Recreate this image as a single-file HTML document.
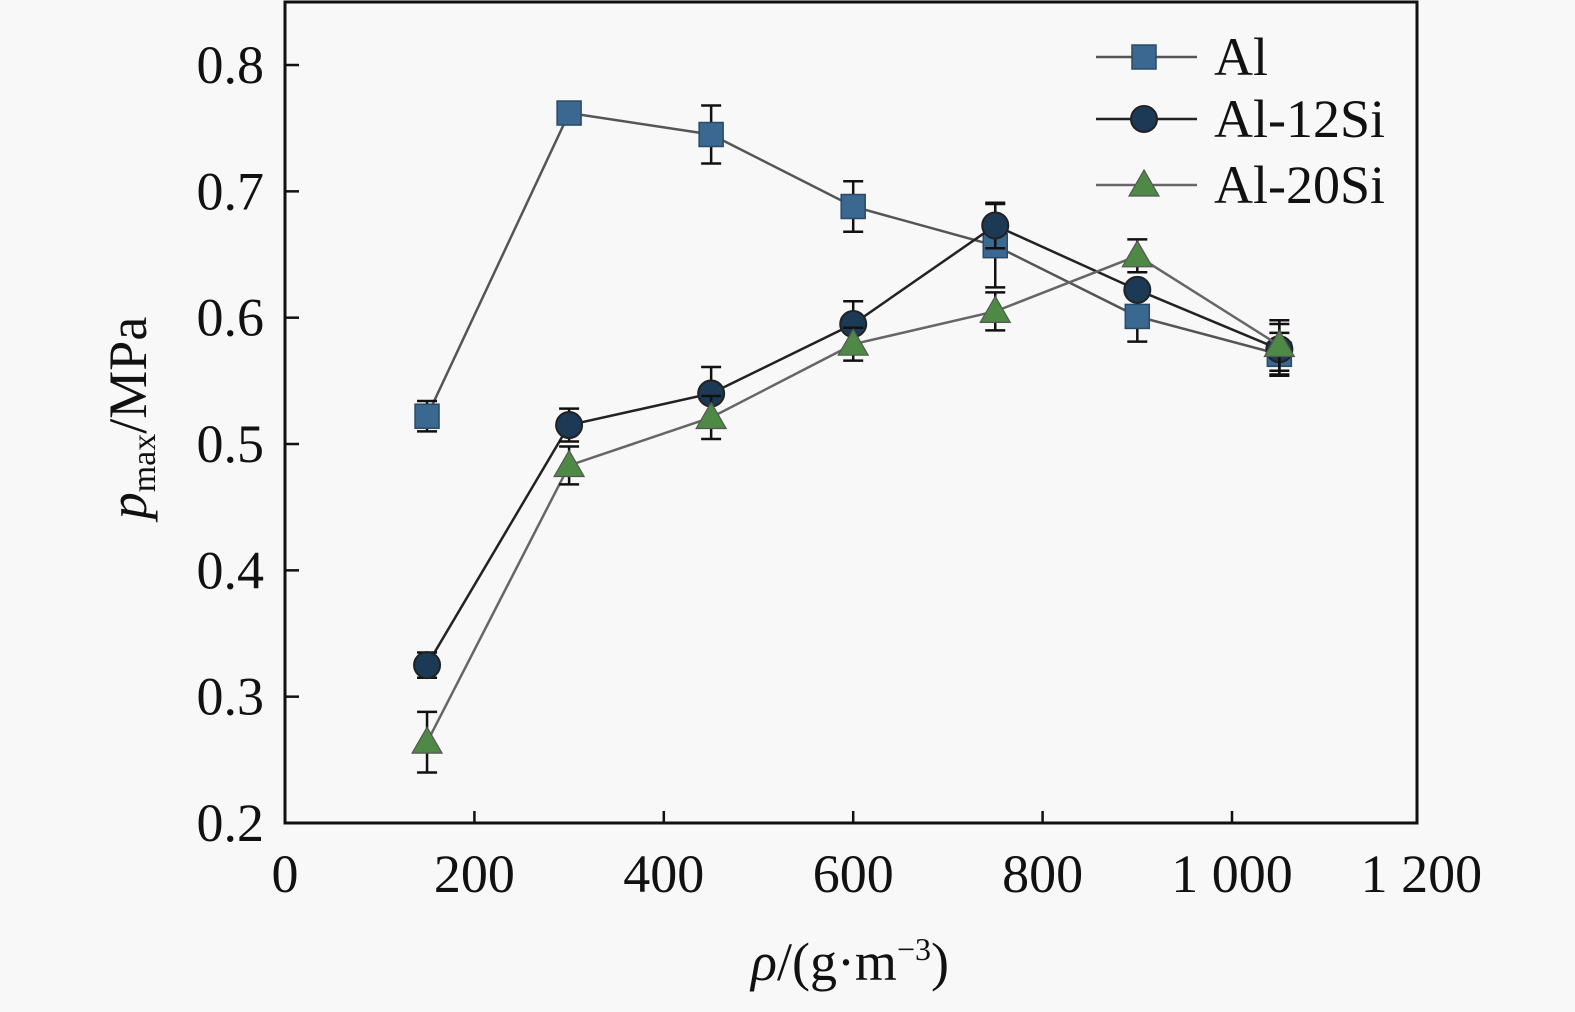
<!DOCTYPE html>
<html><head><meta charset="utf-8"><style>
html,body{margin:0;padding:0;background:#f8f8f8;}
svg{display:block;}
svg text{font-family:"Liberation Serif","Times New Roman",serif;}
</style></head><body>
<svg id="chart" width="1575" height="1012" viewBox="0 0 1575 1012" xmlns="http://www.w3.org/2000/svg">
<rect x="0" y="0" width="1575" height="1012" fill="#f8f8f8"/>
<g id="plot"></g>
<g id="axes"></g>
<text transform="translate(146,418) rotate(-90)" text-anchor="middle" font-size="54" fill="#111"><tspan font-style="italic">p</tspan><tspan font-size="34" dy="9">max</tspan><tspan dy="-9">/MPa</tspan></text>
<text x="850" y="980" text-anchor="middle" font-size="54" fill="#111"><tspan font-style="italic">ρ</tspan>/(g·m<tspan font-size="32" dy="-20">−3</tspan><tspan dy="20">)</tspan></text>
<g id="legend"></g>
</svg>
<script>
const xValues = [150, 300, 450, 600, 750, 900, 1050];
const seriesNames = ["Al", "Al-12Si", "Al-20Si"];
const alValues = [0.522, 0.762, 0.745, 0.688, 0.657, 0.601, 0.571];
const alErrors = [0.012, 0.003, 0.023, 0.020, 0.033, 0.020, 0.017];
const si12Values = [0.325, 0.515, 0.540, 0.595, 0.673, 0.622, 0.575];
const si12Errors = [0.010, 0.013, 0.021, 0.018, 0.018, 0.004, 0.020];
const si20Values = [0.264, 0.483, 0.521, 0.579, 0.605, 0.649, 0.578];
const si20Errors = [0.024, 0.015, 0.017, 0.013, 0.015, 0.013, 0.020];
const xTicks = [0, 200, 400, 600, 800, 1000, 1200];
const xTickLabels = ["0", "200", "400", "600", "800", "1 000", "1 200"];
const yTicks = [0.2, 0.3, 0.4, 0.5, 0.6, 0.7, 0.8];
const yTickLabels = ["0.2", "0.3", "0.4", "0.5", "0.6", "0.7", "0.8"];

const NS = "http://www.w3.org/2000/svg";
const L = 285, R = 1417, T = 2, B = 823;
function sx(v){ return 285 + v * 0.947; }
function sy(v){ return 823 - (v - 0.2) * 1263.3; }
function mk(tag, attrs, parent){ const e = document.createElementNS(NS, tag); for (const k in attrs) e.setAttribute(k, attrs[k]); parent.appendChild(e); return e; }

const plot = document.getElementById('plot');
const axes = document.getElementById('axes');
const legend = document.getElementById('legend');

const series = [
  {vals: alValues, errs: alErrors, shape: 'square', fill: '#3a6890', line: '#555'},
  {vals: si12Values, errs: si12Errors, shape: 'circle', fill: '#1c3a55', line: '#222'},
  {vals: si20Values, errs: si20Errors, shape: 'triangle', fill: '#4e8a45', line: '#666'}
];

function marker(shape, x, y, fill, parent){
  let e;
  if (shape === 'square') e = mk('rect', {x: x-12, y: y-12, width: 24, height: 24, fill: fill, stroke: '#2a4a66', 'stroke-width': 1.5}, parent);
  else if (shape === 'circle') e = mk('circle', {cx: x, cy: y, r: 13, fill: fill, stroke: '#222', 'stroke-width': 2}, parent);
  else e = mk('polygon', {points: `${x},${y-15} ${x-15},${y+11} ${x+15},${y+11}`, fill: fill, stroke: '#555', 'stroke-width': 1.2}, parent);
  return e;
}

series.forEach((s, si) => {
  const g = mk('g', {}, plot);
  
  
  const pts = s.vals.map((v, i) => sx(xValues[i]) + ',' + sy(v)).join(' ');
  const pl = mk('polyline', {points: pts, fill: 'none', stroke: s.line, 'stroke-width': 2.5}, g);
  
  
  s.vals.forEach((v, i) => {
    const x = sx(xValues[i]);
    const y1 = sy(v + s.errs[i]), y2 = sy(v - s.errs[i]);
    const eb = mk('path', {d: `M${x},${y1}V${y2}M${x-10},${y1}H${x+10}M${x-10},${y2}H${x+10}`, stroke: '#111', 'stroke-width': 2.5, fill: 'none'}, g);
    
    
    const m = marker(s.shape, x, sy(v), s.fill, g);
    
    
  });
});

const frame = mk('rect', {x: L, y: T, width: R-L, height: B-T, fill: 'none', stroke: '#111', 'stroke-width': 3}, axes);



xTicks.forEach((t, i) => {
  const x = sx(t);
  if (t > 0 && t < 1200) {
    const tk = mk('line', {x1: x, y1: B, x2: x, y2: B-12, stroke: '#111', 'stroke-width': 2.5}, axes);
    
    
  }
  const tx = mk('text', {x: x, y: 892, 'text-anchor': 'middle', 'font-size': 54, fill: '#111'}, axes);
  
  
  tx.textContent = xTickLabels[i];
});
yTicks.forEach((t, i) => {
  const y = sy(t);
  if (t > 0.2) {
    const tk = mk('line', {x1: L, y1: y, x2: L+14, y2: y, stroke: '#111', 'stroke-width': 2.5}, axes);
    
    
  }
  const tx = mk('text', {x: 264, y: y+18, 'text-anchor': 'end', 'font-size': 54, fill: '#111'}, axes);
  
  
  tx.textContent = yTickLabels[i];
});

const legY = [57, 119, 185];
series.forEach((s, si) => {
  const g = mk('g', {}, legend);
  
  
  mk('line', {x1: 1096, y1: legY[si], x2: 1197, y2: legY[si], stroke: s.line, 'stroke-width': 2.5}, g);
  marker(s.shape, 1144, legY[si], s.fill, g);
  const tx = mk('text', {x: 1214, y: legY[si] + 18, 'font-size': 54, fill: '#111'}, g);
  tx.textContent = seriesNames[si];
});
</script>
</body></html>
